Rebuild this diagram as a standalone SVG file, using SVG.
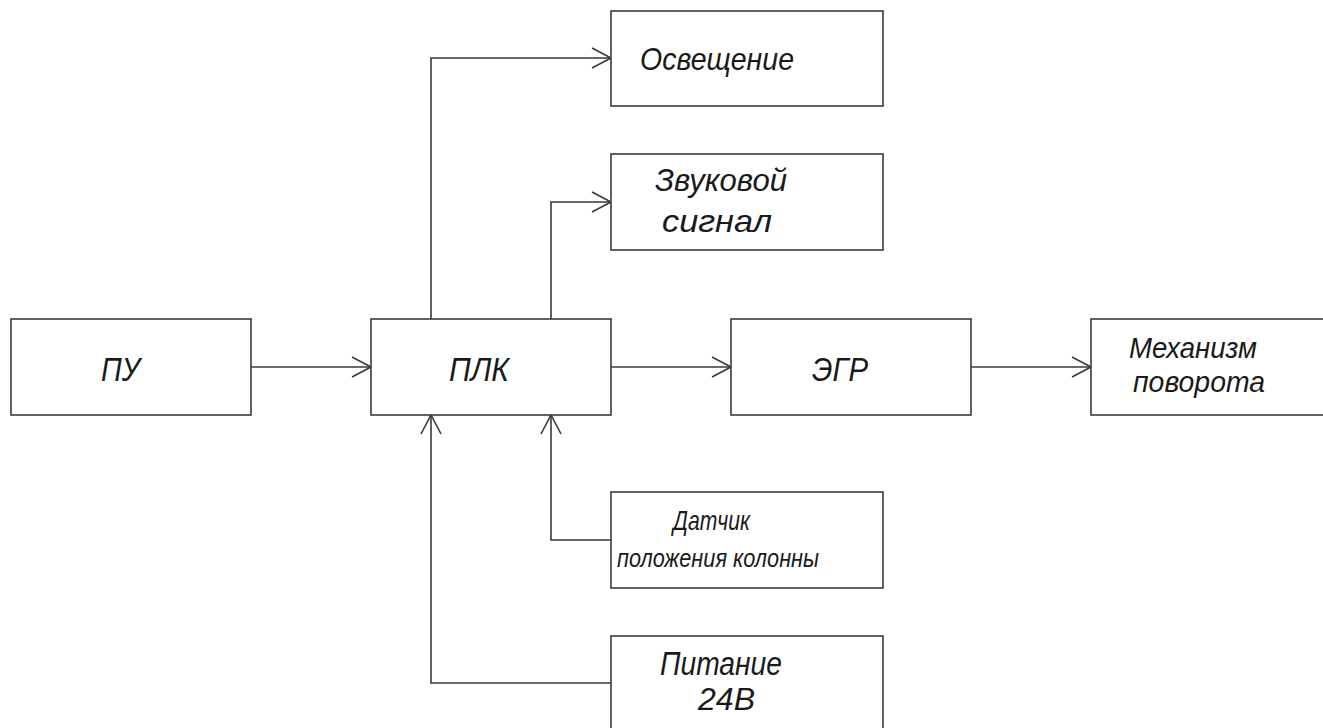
<svg xmlns="http://www.w3.org/2000/svg" width="1323" height="728" viewBox="0 0 1323 728">
<style>
.box{fill:#fff;stroke:#3a3a3a;stroke-width:1.6}
.ln{fill:none;stroke:#3a3a3a;stroke-width:1.6}
.t{font-family:"Liberation Sans",Arial,sans-serif;font-style:italic;fill:#1a1a1a}
</style>
<defs>
<marker id="a" markerWidth="24" markerHeight="24" viewBox="-22 -12 24 24" refX="0" refY="0" orient="auto" markerUnits="userSpaceOnUse">
<path d="M-19,-10 L0,0 L-19,10" fill="none" stroke="#3a3a3a" stroke-width="1.6"/>
</marker>
</defs>
<rect width="1323" height="728" fill="#fff"/>
<g id="connectors">
<path class="ln" d="M251,367 H371" marker-end="url(#a)"/>
<path class="ln" d="M611,367 H731" marker-end="url(#a)"/>
<path class="ln" d="M971,367 H1091" marker-end="url(#a)"/>
<path class="ln" d="M431,319 V58 H611" marker-end="url(#a)"/>
<path class="ln" d="M551,319 V202 H611" marker-end="url(#a)"/>
<path class="ln" d="M611,540 H551 V415" marker-end="url(#a)"/>
<path class="ln" d="M611,683 H431 V415" marker-end="url(#a)"/>
</g>
<g id="pu"><rect class="box" x="11" y="319" width="240" height="96"/>
<text class="t" x="101" y="381" font-size="34" textLength="39" lengthAdjust="spacingAndGlyphs">ПУ</text></g>
<g id="plk"><rect class="box" x="371" y="319" width="240" height="96"/>
<text class="t" x="449" y="381" font-size="34" textLength="60" lengthAdjust="spacingAndGlyphs">ПЛК</text></g>
<g id="egr"><rect class="box" x="731" y="319" width="240" height="96"/>
<text class="t" x="812" y="381" font-size="34" textLength="56" lengthAdjust="spacingAndGlyphs">ЭГР</text></g>
<g id="mech"><rect class="box" x="1091" y="319" width="250" height="96"/>
<text class="t" x="1129" y="358" font-size="30" textLength="128" lengthAdjust="spacingAndGlyphs">Механизм</text>
<text class="t" x="1133" y="392" font-size="30" textLength="132" lengthAdjust="spacingAndGlyphs">поворота</text></g>
<g id="light"><rect class="box" x="611" y="11" width="272" height="95"/>
<text class="t" x="640" y="70" font-size="32" textLength="154" lengthAdjust="spacingAndGlyphs">Освещение</text></g>
<g id="sound"><rect class="box" x="611" y="154" width="272" height="96"/>
<text class="t" x="655" y="191" font-size="32" textLength="132" lengthAdjust="spacingAndGlyphs">Звуковой</text>
<text class="t" x="662" y="232" font-size="32" textLength="110" lengthAdjust="spacingAndGlyphs">сигнал</text></g>
<g id="sensor"><rect class="box" x="611" y="492" width="272" height="96"/>
<text class="t" x="673" y="530" font-size="28" textLength="77" lengthAdjust="spacingAndGlyphs">Датчик</text>
<text class="t" x="617" y="567" font-size="26" textLength="202" lengthAdjust="spacingAndGlyphs">положения колонны</text></g>
<g id="power"><rect class="box" x="611" y="636" width="272" height="100"/>
<text class="t" x="660" y="675" font-size="34" textLength="122" lengthAdjust="spacingAndGlyphs">Питание</text>
<text class="t" x="698" y="710" font-size="32" textLength="57" lengthAdjust="spacingAndGlyphs">24В</text></g>
</svg>
